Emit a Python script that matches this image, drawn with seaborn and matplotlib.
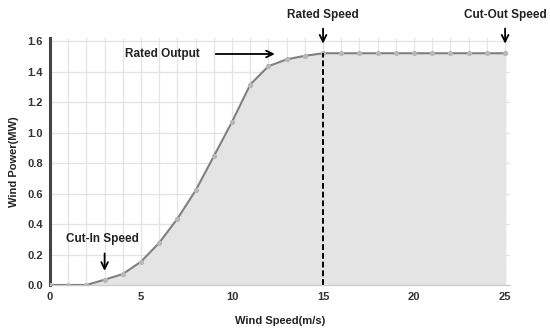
import matplotlib
matplotlib.use("Agg")
import matplotlib.pyplot as plt
import seaborn as sns
import pandas as pd
from matplotlib.ticker import MultipleLocator

wind_speed = [0, 1, 2, 3, 4, 5, 6, 7, 8, 9, 10, 11, 12, 13, 14, 15, 16, 17, 18, 19, 20, 21, 22, 23, 24, 25]
wind_power = [0.0, 0.0, 0.0, 0.035, 0.072, 0.153, 0.277, 0.435, 0.62, 0.845, 1.07, 1.315, 1.435, 1.48, 1.503, 1.52,
              1.52, 1.52, 1.52, 1.52, 1.52, 1.52, 1.52, 1.52, 1.52, 1.52]
x_ticks = [0, 5, 10, 15, 20, 25]
y_ticks = [0.0, 0.2, 0.4, 0.6, 0.8, 1.0, 1.2, 1.4, 1.6]
rated_speed = 15
cut_in_speed = 3
cut_out_speed = 25

df = pd.DataFrame({"speed": wind_speed, "power": wind_power})

sns.set_style("white")
fam = ["Liberation Sans Narrow", "Liberation Sans", "DejaVu Sans"]
plt.rcParams["font.family"] = fam

fig = plt.figure(figsize=(5.5, 3.33), dpi=100)
ax = fig.add_axes([50 / 550, 48 / 333, 460 / 550, 247 / 333])

ax.fill_between(df["speed"], df["power"], 0, color="#e4e4e4", zorder=1)
sns.lineplot(data=df, x="speed", y="power", ax=ax, color="#808080", linewidth=1.5,
             marker="o", markersize=3, markerfacecolor="#b8b8b8", markeredgecolor="#b8b8b8", zorder=3)

ax.vlines(rated_speed, 0, wind_power[wind_speed.index(rated_speed)], colors="black",
          linestyles=(0, (3, 1.5)), linewidth=1.4, zorder=4)

ax.set_xlim(0, 25.27)
ax.set_ylim(0, 1.62)
ax.xaxis.set_major_locator(plt.FixedLocator(x_ticks))
ax.yaxis.set_major_locator(plt.FixedLocator(y_ticks))
ax.xaxis.set_minor_locator(MultipleLocator(1))
ax.grid(which="major", axis="y", color="#e3e3e3", linewidth=0.9, zorder=0)
ax.grid(which="both", axis="x", color="#e3e3e3", linewidth=0.9, zorder=0)
ax.set_axisbelow(True)

ax.set_xticklabels([str(t) for t in x_ticks], fontsize=8, fontweight="bold", color="#333333")
ax.set_yticklabels([f"{t:.1f}" for t in y_ticks], fontsize=8, fontweight="bold", color="#333333")
ax.tick_params(axis="both", which="both", length=0, pad=5)

for s in ["top", "right"]:
    ax.spines[s].set_visible(False)
ax.spines["left"].set_color("#444444")
ax.spines["left"].set_linewidth(2.2)
ax.spines["bottom"].set_color("#cccccc")
ax.spines["bottom"].set_linewidth(1.0)

ax.set_xlabel("Wind Speed(m/s)", fontsize=8, fontweight="bold", color="#222222", labelpad=10)
ax.set_ylabel("Wind Power(MW)", fontsize=8, fontweight="bold", color="#222222", labelpad=6)

tkw = dict(fontsize=8.5, fontweight="bold", color="#222222", ha="center", va="center")
akw = dict(arrowstyle="->", color="black", lw=1.3, mutation_scale=12)

ax.text(6.15, 1.515, "Rated Output", **tkw)
ax.annotate("", xy=(12.5, 1.515), xytext=(8.95, 1.515), arrowprops=akw, annotation_clip=False)

ax.text(rated_speed, 1.77, "Rated Speed", clip_on=False, **tkw)
ax.annotate("", xy=(rated_speed, 1.565), xytext=(rated_speed, 1.70), arrowprops=akw, annotation_clip=False)

ax.text(cut_out_speed, 1.77, "Cut-Out Speed", clip_on=False, **tkw)
ax.annotate("", xy=(cut_out_speed, 1.565), xytext=(cut_out_speed, 1.70), arrowprops=akw, annotation_clip=False)

ax.text(2.9, 0.30, "Cut-In Speed", **tkw)
ax.annotate("", xy=(cut_in_speed, 0.075), xytext=(cut_in_speed, 0.225), arrowprops=akw, annotation_clip=False)

fig.savefig("out.png", dpi=100)
